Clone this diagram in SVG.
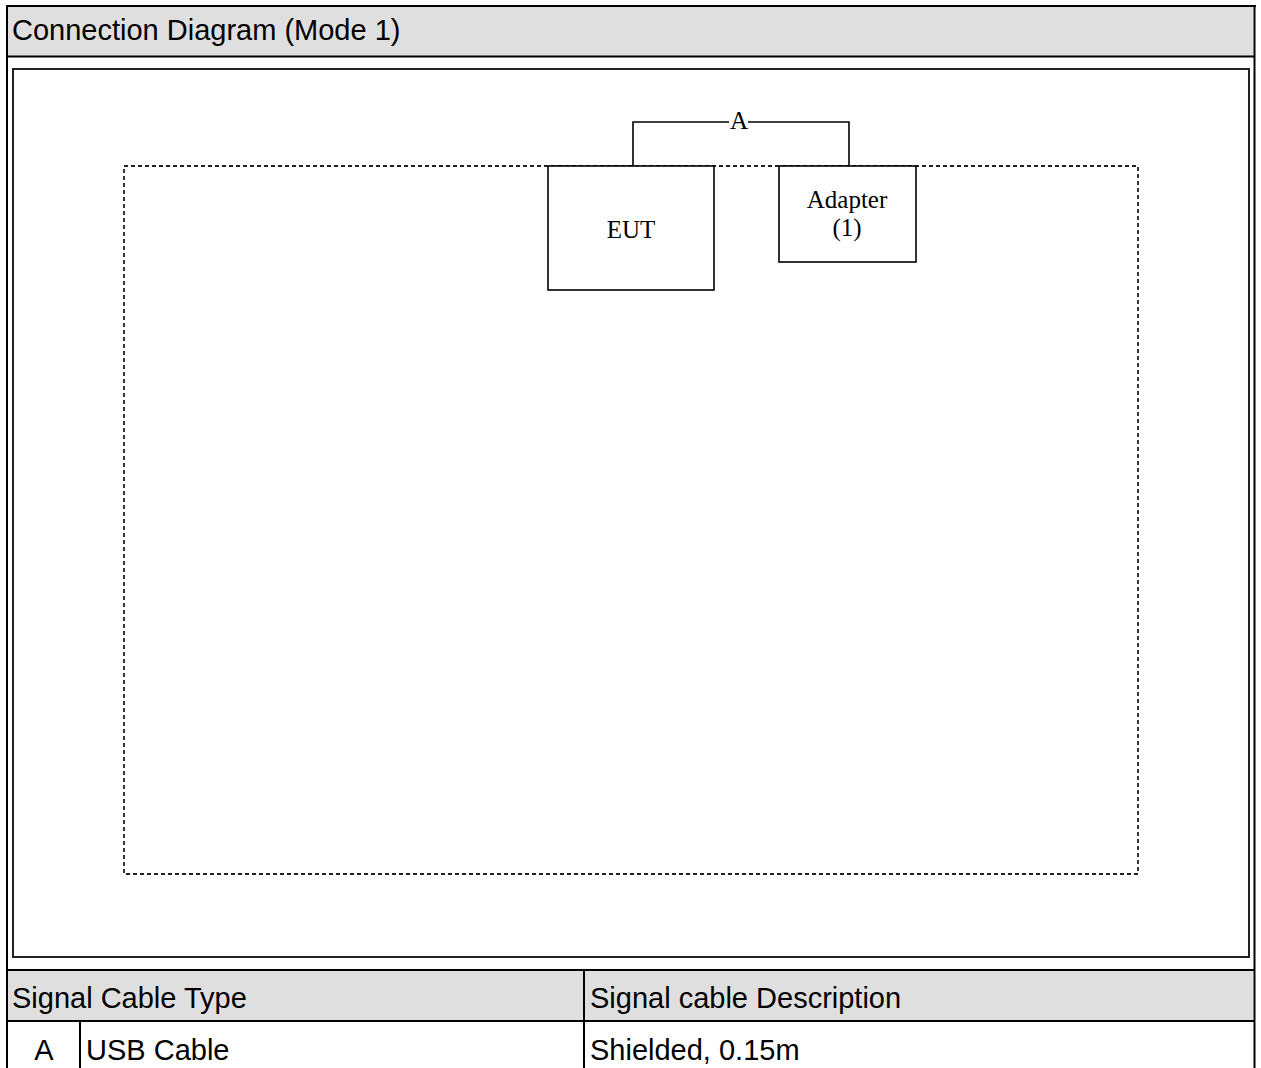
<svg xmlns="http://www.w3.org/2000/svg" width="1261" height="1068" viewBox="0 0 1261 1068">
<style>
.sans{font-family:"Liberation Sans",Arial,sans-serif;font-size:29px;fill:#000}
.serif{font-family:"Liberation Serif","Times New Roman",serif;font-size:25px;fill:#000}
.band{fill:#dfdfdf}
.rule{stroke:#000;stroke-width:2;fill:none}
.box{fill:#fff;stroke:#000;stroke-width:1.6}
.wire{fill:none;stroke:#000;stroke-width:1.6}
</style>
<rect width="1261" height="1068" fill="#fff"/>
<g id="frame">
<rect class="band" x="8" y="7" width="1245" height="49"/>
<rect class="band" x="8" y="971" width="1245" height="49"/>
<line class="rule" x1="6" y1="6" x2="1256" y2="6"/>
<line class="rule" x1="7" y1="6" x2="7" y2="1068" stroke-width="3"/>
<line class="rule" x1="1254.5" y1="6" x2="1254.5" y2="1068" stroke-width="3"/>
<line class="rule" x1="7" y1="56.5" x2="1254" y2="56.5"/>
<rect x="13" y="69" width="1236" height="888" fill="#fff" stroke="#222" stroke-width="2"/>
<line class="rule" x1="7" y1="970" x2="1254" y2="970"/>
<line class="rule" x1="7" y1="1021" x2="1254" y2="1021"/>
<line class="rule" x1="584" y1="970" x2="584" y2="1068"/>
<line class="rule" x1="80" y1="1021" x2="80" y2="1068"/>
<text class="sans" x="12" y="40">Connection Diagram (Mode 1)</text>
<text class="sans" x="12" y="1008">Signal Cable Type</text>
<text class="sans" x="590" y="1008">Signal cable Description</text>
<text class="sans" x="44" y="1060" text-anchor="middle">A</text>
<text class="sans" x="86" y="1060">USB Cable</text>
<text class="sans" x="590" y="1060">Shielded, 0.15m</text>
</g>
<g id="area">
<rect x="124" y="166" width="1014" height="708" fill="none" stroke="#222" stroke-width="1.8" stroke-dasharray="4 3"/>
</g>
<g id="connectors">
<path class="wire" d="M633,166 V122 H849 V166"/>
<rect x="729" y="112" width="19" height="20" fill="#fff"/>
<text class="serif" x="739" y="129" text-anchor="middle">A</text>
</g>
<g id="eut">
<rect class="box" x="548" y="166" width="166" height="124"/>
<text class="serif" x="631" y="238" text-anchor="middle">EUT</text>
</g>
<g id="adapter">
<rect class="box" x="779" y="166" width="137" height="96"/>
<text class="serif" x="847" y="208" text-anchor="middle">Adapter</text>
<text class="serif" x="847" y="236" text-anchor="middle">(1)</text>
</g>
</svg>
